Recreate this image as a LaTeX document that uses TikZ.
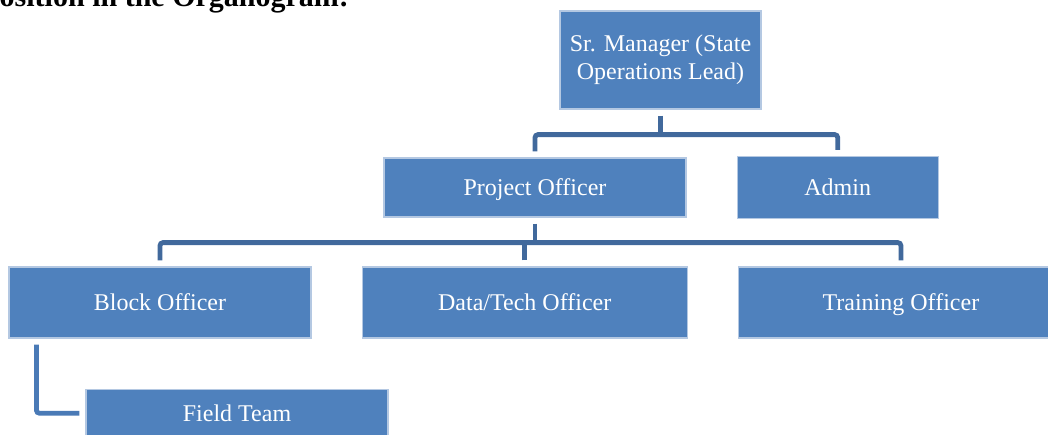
\documentclass[tikz,border=0pt]{standalone}
\usepackage{fontspec}
\setmainfont{Liberation Serif}
\usetikzlibrary{positioning, calc}

\definecolor{boxblue}{HTML}{4F81BD}
\definecolor{boxedge}{HTML}{B4C8E2}
\definecolor{linkblue}{HTML}{41699C}
\definecolor{sublinkblue}{HTML}{4A7AB6}

\begin{document}
\begin{tikzpicture}[
    x=0.5pt, y=-0.5pt,
    post/.style={draw=boxedge, line width=0.6pt, fill=boxblue, text=white,
                 font=\fontsize{12}{14}\selectfont, align=center, inner sep=0pt},
    oneline/.style={post, text height=8pt, text depth=0pt},
    link/.style={draw=linkblue, line width=2.4pt, rounded corners=1.5pt},
    sublink/.style={draw=sublinkblue, line width=2.4pt, rounded corners=1.5pt}
]
\clip (0,0) rectangle (1048,434);

% heading, only its lower part shows
\node[anchor=base west, inner sep=0pt, font=\fontsize{15}{18}\selectfont\bfseries] (heading)
    at (-19,6) {Position in the Organogram:};

% top level
\node[post, minimum width=100.5pt, minimum height=49pt] (mgr) at (660.5,60)
    {Sr. Manager (State\\Operations Lead)};

% second level
\node[oneline, minimum width=151pt, minimum height=29.5pt] (po) at (535,187.5) {Project Officer};
\node[oneline, minimum width=100.5pt, minimum height=31pt, right=25pt of po] (admin) {Admin};

% third level
\node[oneline, minimum width=151pt, minimum height=35.5pt] (block) at (160,302.5) {Block Officer};
\node[oneline, minimum width=162.5pt, minimum height=35.5pt, right=25pt of block] (datatech) {Data/Tech Officer};
\node[oneline, minimum width=162.5pt, minimum height=35.5pt, right=25pt of datatech] (training) {Training Officer};

% field level
\node[oneline, minimum width=151pt, minimum height=24pt, anchor=north west]
    (field) at ([xshift=38.5pt, yshift=-25pt]block.south west) {Field Team};

% buses
\coordinate (bus1) at ([yshift=-12.5pt]mgr.south);
\coordinate (bus2) at ([yshift=-12.5pt]po.south);

% manager to second level
\draw[link] ([yshift=-3pt]mgr.south) -- (bus1);
\draw[link] ([yshift=3pt]po.north) |- (bus1) -| ([yshift=3pt]admin.north);

% project officer to third level
\draw[link] ([yshift=-3pt]po.south) -- (bus2);
\draw[link] ([yshift=3pt]block.north) |- (bus2) -| ([yshift=3pt]training.north);
\draw[link] ([yshift=3pt]datatech.north) -- (datatech.north |- bus2);

% block officer to field team
\draw[sublink] ([xshift=14pt, yshift=-3pt]block.south west) |- ([xshift=-3pt]field.west);
\end{tikzpicture}
\end{document}
